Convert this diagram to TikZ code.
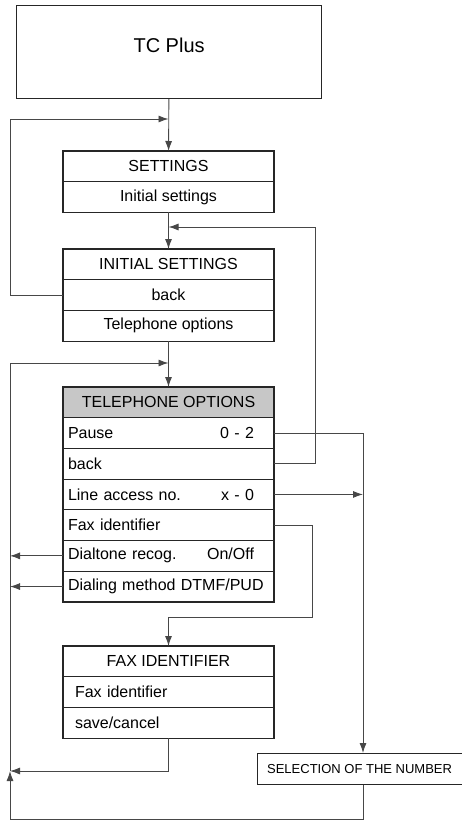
\documentclass[tikz,border=0pt]{standalone}
\usepackage{fontspec}
\setmainfont{Liberation Sans}
\usetikzlibrary{positioning}
\usetikzlibrary{arrows.meta, positioning}
\tikzstyle{arrow} = [draw=black!72, line width=0.9pt, ->, >={Latex[length=10pt,width=7pt]}]
\tikzstyle{row} = [draw=black!85, line width=1.2pt, minimum width=211pt, minimum height=30.7pt, inner sep=0pt, outer sep=0pt, font=\fontsize{16}{19}\selectfont]
\tikzstyle{lrow} = [row, text width=201pt, align=left]
\tikzstyle{frow} = [row, text width=187pt, align=left]

\begin{document}
\begin{tikzpicture}[x=1pt, y=-1pt]
    \clip (0,0) rectangle (462,821);
    % Nodes
    \node[draw=black!85, line width=1.2pt, minimum width=305pt, minimum height=93pt, anchor=north west, text depth=13pt, font=\fontsize{20}{24}\selectfont] (TC) at (16,5) {TC Plus};

    \node[row, anchor=north] (S1) at (168.5,151) {SETTINGS};
    \node[row, below=0pt of S1] (S2) {Initial settings};

    \node[row, anchor=north] (I1) at (168.5,249) {INITIAL SETTINGS};
    \node[row, below=0pt of I1] (I2) {back};
    \node[row, below=0pt of I2] (I3) {Telephone options};

    \node[row, fill=black!22, anchor=north] (T1) at (168.5,387) {TELEPHONE OPTIONS};
    \node[lrow, below=0pt of T1] (T2) {Pause\hfill 0 - 2\hspace*{15pt}\null};
    \node[lrow, below=0pt of T2] (T3) {back};
    \node[lrow, below=0pt of T3] (T4) {Line access no.\hfill x - 0\hspace*{15pt}\null};
    \node[lrow, below=0pt of T4] (T5) {Fax identifier};
    \node[lrow, below=0pt of T5] (T6) {Dialtone recog.\hfill On/Off\hspace*{15pt}\null};
    \node[lrow, below=0pt of T6] (T7) {Dialing method DTMF/PUD};

    \node[row, anchor=north] (F1) at (168.5,646) {FAX IDENTIFIER};
    \node[frow, below=0pt of F1] (F2) {Fax identifier};
    \node[frow, below=0pt of F2] (F3) {save/cancel};

    \node[draw=black!85, line width=1.2pt, minimum width=215pt, minimum height=31pt, inner sep=0pt, anchor=north west, font=\fontsize{13}{16}\selectfont] (SEL) at (257,753) {\hspace*{-11pt}SELECTION OF THE NUMBER};

    \coordinate (L1) at (10,119);
    \coordinate (J1) at (168.5,119);
    \coordinate (R1) at (315,227);
    \coordinate (J2) at (168.5,227);
    \coordinate (P2) at (363,753);
    \coordinate (R3) at (312,617);
    \coordinate (L2) at (10,771);
    \coordinate (B1) at (10,819);
    \coordinate (L3) at (10,363);
    \coordinate (J4) at (168.5,363);

    % Edges
    \draw[arrow] (TC) -- (S1);
    \draw[arrow] (S2) -- (I1);
    \draw[arrow] (I3) -- (T1);
    \draw[arrow] (I2.west) -| (L1) -- (J1);
    \draw[arrow] (T3.east) -| (R1) -- (J2);
    \draw[arrow] (T2.east) -| (P2);
    \draw[arrow] (T4.east) -- (T4.east -| P2);
    \draw[arrow] (T5.east) -| (R3) -| (F1.north);
    \draw[arrow] (T6.west) -- (T6.west -| L1);
    \draw[arrow] (T7.west) -- (T7.west -| L1);
    \draw[arrow] (F3.south) |- (L2);
    \draw[arrow] (P2 |- SEL.south) |- (B1) -- (L2);
    \draw[arrow] (L2) -- (L3) -- (J4);
\end{tikzpicture}
\end{document}
